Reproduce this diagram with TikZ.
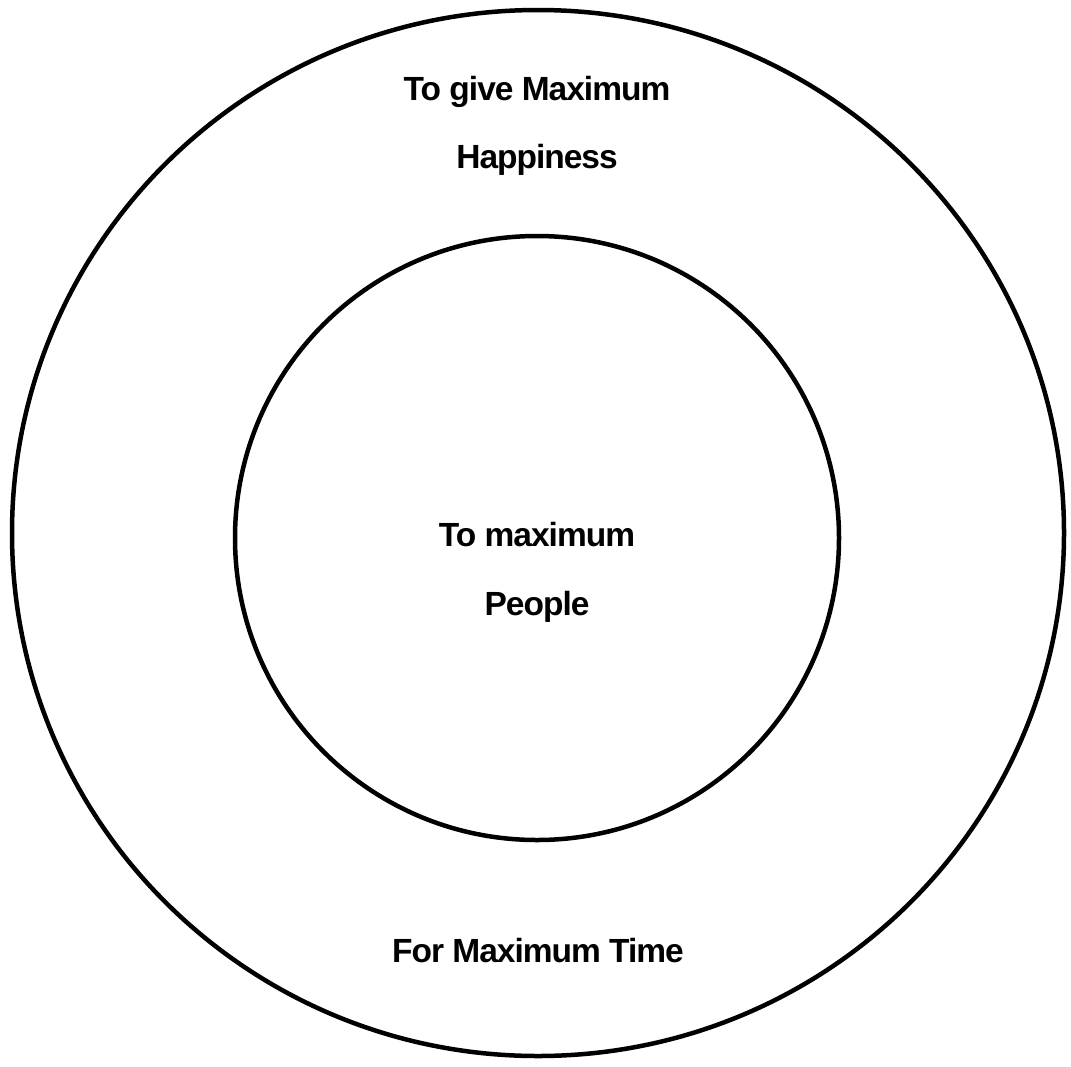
\documentclass[tikz,border=0pt]{standalone}
\usepackage{fontspec}
\setmainfont{Liberation Sans}[LetterSpace=-3]
\usepackage{xcolor}
\definecolor{ringblack}{RGB}{0, 0, 0}

\begin{document}
\begin{tikzpicture}[x=1pt,y=-1pt,
    ring/.style={draw=ringblack,line width=4.5pt},
    goal/.style={font=\fontsize{33.5}{40}\selectfont\bfseries,anchor=base,inner sep=0pt}]
        \useasboundingbox (0,0) rectangle (1071,1066);
        \draw[ring] (538,533) ellipse [x radius=526,y radius=523];
        \draw[ring] (537,538) circle [radius=302];
        \node[goal] (give) at (537,100) {To give Maximum};
        \node[goal] (happy) at (537,168) {Happiness};
        \node[goal] (tomax) at (537,546) {To maximum};
        \node[goal] (people) at (537,615) {People};
        \node[goal] (time) at (538,962) {For Maximum Time};
      \end{tikzpicture}
\end{document}
